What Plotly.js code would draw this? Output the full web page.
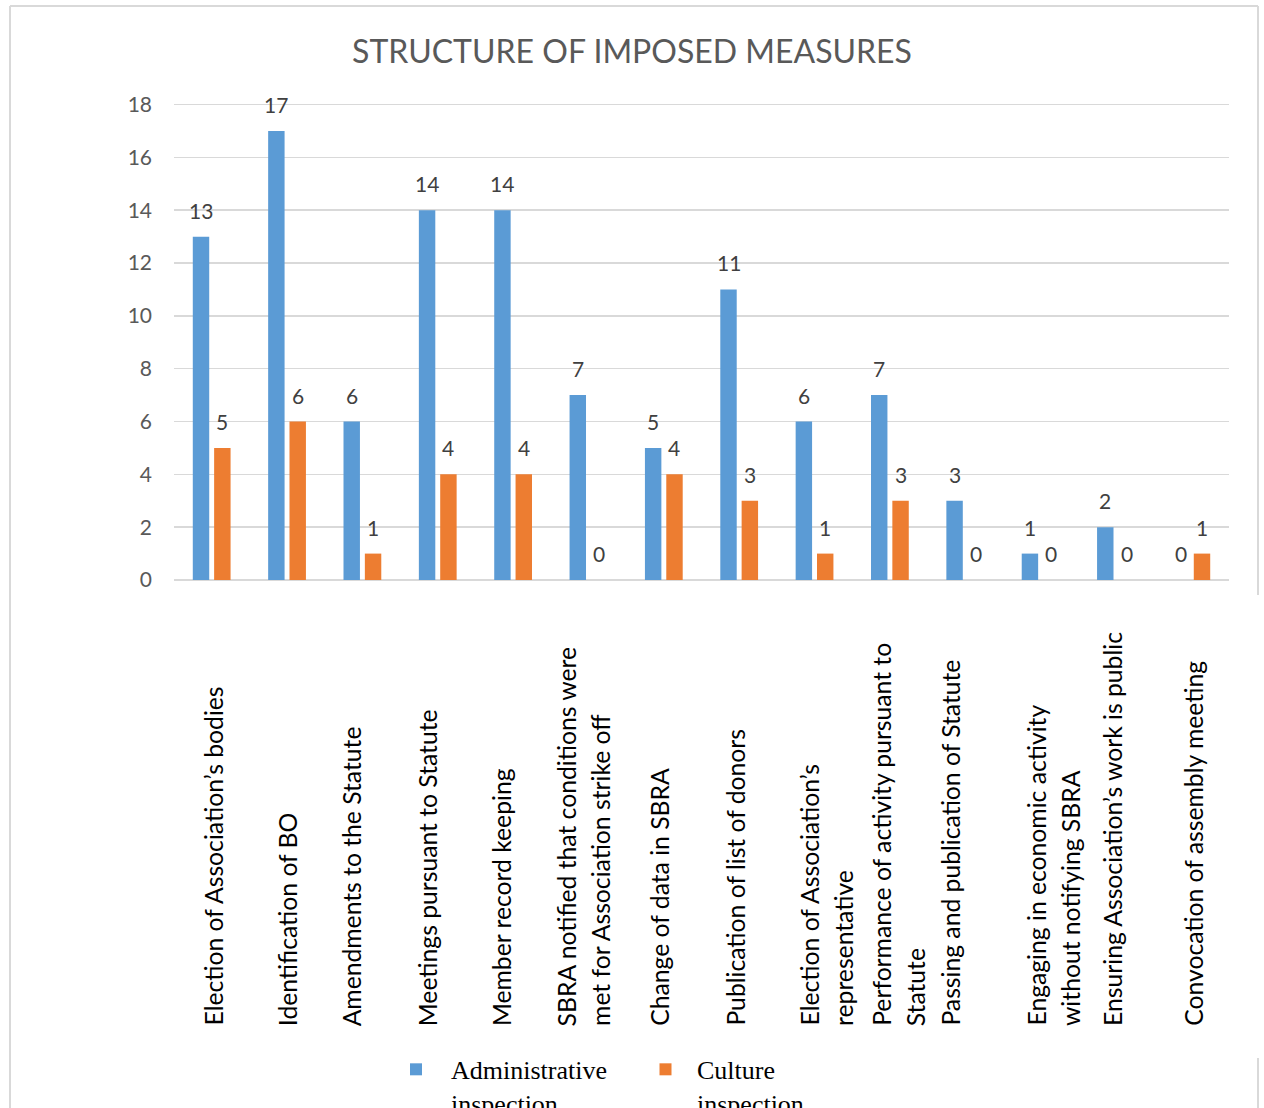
<!DOCTYPE html>
<html><head><meta charset="utf-8">
<script src="https://cdn.plot.ly/plotly-3.0.1.min.js"></script>
<style>html,body{margin:0;padding:0;background:#fff;} #chart{width:1264px;height:1108px;}</style>
</head><body><div id="chart"></div>
<script>
// ---- data ----
const categories = [
  "Election of Association’s bodies",
  "Identification of BO",
  "Amendments to the Statute",
  "Meetings pursuant to Statute",
  "Member record keeping",
  "SBRA notified that conditions were<br>met for Association strike off",
  "Change of data in SBRA",
  "Publication of list of donors",
  "Election of Association’s<br>representative",
  "Performance of activity pursuant to<br>Statute",
  "Passing and publication of Statute",
  "Engaging in economic activity<br>without notifying SBRA",
  "Ensuring Association’s work is public",
  "Convocation of assembly meeting"
];
const adminValues   = [13, 17, 6, 14, 14, 7, 5, 11, 6, 7, 3, 1, 2, 0];
const cultureValues = [5, 6, 1, 4, 4, 0, 4, 3, 1, 3, 0, 0, 0, 1];
const seriesNames = ["Administrative<br>inspection", "Culture<br>inspection"];
const yTickValues = [0, 2, 4, 6, 8, 10, 12, 14, 16, 18];
const chartTitle = "STRUCTURE OF IMPOSED MEASURES";

// ---- layout helpers (pixels) ----
const W = 1264, H = 1108;
const yMax = 18.06;
const PL = 174, PR = 1229, PB = 580;
const PT = 104.5 - (yMax - 18) * (580 - 104.5) / 18;
const px2x = p => (p - PL) / (PR - PL);
const py2y = p => (PB - p) / (PB - PT);
const bargap = 0.4335;
const catW = (PR - PL) / categories.length;
const slotHalf = (1 - bargap) * catW / 4;
// horizontal offsets of the rotated category labels (px)
const labelShift = [1.4, 1.2, -10, -10, -11, -5, -4, -4, 12, 9, -14.6, 13, -3, 2];
const linePitch = 35;

const colors = ["#5B9BD5", "#ED7D31"];
const legendIds = ["legend", "legend2"];
const fontFam = "Lato, 'Open Sans', sans-serif";

const traces = [adminValues, cultureValues].map((vals, k) => ({
  type: "bar",
  name: seriesNames[k],
  legend: legendIds[k],
  x: categories,
  y: vals,
  marker: {color: colors[k], line: {width: 0}},
  hoverinfo: "x+y"
}));

const annotations = [];
// value labels
[adminValues, cultureValues].forEach((vals, k) => {
  vals.forEach((v, i) => {
    annotations.push({
      x: categories[i], y: v, xref: "x", yref: "y",
      text: String(v), showarrow: false,
      xanchor: "center", yanchor: "bottom",
      xshift: (k === 0 ? -1 : 1) * slotHalf, yshift: 12,
      font: {family: fontFam, size: 21, color: "#404040"}
    });
  });
});
// rotated category labels
categories.forEach((c, i) => {
  const lines = c.split("<br>");
  lines.forEach((ln, j) => {
    annotations.push({
      x: c, y: py2y(1028), xref: "x", yref: "paper",
      text: ln, showarrow: false, textangle: -90,
      xanchor: "center", yanchor: "bottom", align: "left",
      xshift: labelShift[i] + (j - (lines.length - 1) / 2) * linePitch,
      font: {family: fontFam, size: 24.7, color: "#000000"}
    });
  });
});

const frameColor = "#d9d9d9";
const shapes = [
  {type: "line", xref: "paper", yref: "paper", x0: px2x(10), x1: px2x(10), y0: py2y(6), y1: py2y(1120), line: {color: frameColor, width: 2}},
  {type: "line", xref: "paper", yref: "paper", x0: px2x(10), x1: px2x(1258), y0: py2y(6), y1: py2y(6), line: {color: frameColor, width: 2}},
  {type: "line", xref: "paper", yref: "paper", x0: px2x(1258), x1: px2x(1258), y0: py2y(6), y1: py2y(595), line: {color: frameColor, width: 2}},
  {type: "line", xref: "paper", yref: "paper", x0: px2x(1258), x1: px2x(1258), y0: py2y(1058), y1: py2y(1120), line: {color: frameColor, width: 2}}
];

const legendFont = {family: "'Liberation Serif', 'Times New Roman', serif", size: 26, color: "#000000"};

const layout = {
  width: W, height: H,
  paper_bgcolor: "#ffffff", plot_bgcolor: "#ffffff",
  margin: {l: PL, r: W - PR, t: PT, b: H - PB, autoexpand: false},
  title: {
    text: chartTitle, x: 0.5, xref: "container", xanchor: "center",
    y: 1 - 52 / H, yref: "container", yanchor: "middle",
    font: {family: fontFam, size: 32, color: "#595959"}
  },
  barmode: "group", bargap: bargap, bargroupgap: 0.23,
  xaxis: {
    type: "category", showticklabels: false, showgrid: false, zeroline: false,
    showline: false, ticks: "", fixedrange: true
  },
  yaxis: {
    range: [0, yMax], tickvals: yTickValues, showgrid: true,
    gridcolor: "#d9d9d9", gridwidth: 1.5,
    zeroline: true, zerolinecolor: "#d9d9d9", zerolinewidth: 2,
    showline: false, ticks: "", ticklabelstandoff: 21,
    tickfont: {family: fontFam, size: 21, color: "#595959"}, fixedrange: true
  },
  showlegend: true,
  legend: {
    orientation: "h", x: px2x(381), xanchor: "left", y: py2y(1046), yanchor: "top",
    font: legendFont, valign: "top", bgcolor: "rgba(0,0,0,0)", itemwidth: 60
  },
  legend2: {
    orientation: "h", x: px2x(634), xanchor: "left", y: py2y(1046), yanchor: "top",
    font: legendFont, valign: "top", bgcolor: "rgba(0,0,0,0)", itemwidth: 53
  },
  annotations: annotations,
  shapes: shapes
};

Plotly.newPlot("chart", traces, layout, {displayModeBar: false, responsive: false, staticPlot: true});
</script>
</body></html>
